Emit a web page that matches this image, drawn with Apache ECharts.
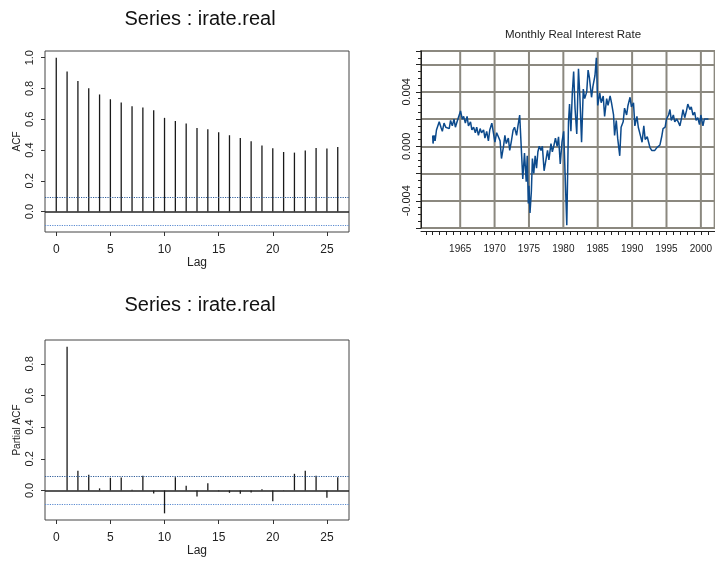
<!DOCTYPE html>
<html>
<head>
<meta charset="UTF-8">
<title>irate.real</title>
<script type="text/javascript" src="https://cdn.jsdelivr.net/npm/echarts/dist/echarts.min.js"></script>
</head>
<body style="margin: 0; background: #fff">
<div id="container" style="width: 715px; height: 561px"></div>
<script>
// ACF / PACF of irate.real
var lags = [0, 1, 2, 3, 4, 5, 6, 7, 8, 9, 10, 11, 12, 13, 14, 15, 16, 17, 18, 19, 20, 21, 22, 23, 24, 25, 26];
var acfValues = [1.0, 0.911, 0.848, 0.802, 0.761, 0.730, 0.709, 0.685, 0.676, 0.659, 0.609, 0.589, 0.572, 0.543,
    0.535, 0.515, 0.496, 0.478, 0.457, 0.430, 0.411, 0.387, 0.383, 0.396, 0.413, 0.409, 0.420];
var pacfLags = [1, 2, 3, 4, 5, 6, 7, 8, 9, 10, 11, 12, 13, 14, 15, 16, 17, 18, 19, 20, 21, 22, 23, 24, 25, 26];
var pacfValues = [0.909, 0.124, 0.099, 0.013, 0.080, 0.082, 0.004, 0.093, -0.019, -0.145, 0.084, 0.029, -0.038,
    0.046, -0.006, -0.015, -0.021, -0.013, 0.008, -0.069, 0.002, 0.105, 0.124, 0.093, -0.046, 0.084];
var confBound = 0.089;
var lagTicks = [0, 5, 10, 15, 20, 25];
var acfTicks = [0, 0.2, 0.4, 0.6, 0.8, 1.0];
var pacfTicks = [0, 0.2, 0.4, 0.6, 0.8];

// monthly real interest rate
var rateYears = [1961.0, 1961.05, 1961.2, 1961.35, 1961.55, 1961.7, 1961.95, 1962.2, 1962.4, 1962.65, 1962.9,
    1963.1, 1963.4, 1963.6, 1963.85, 1964.1, 1964.3, 1964.6, 1964.8, 1965.05, 1965.3, 1965.5, 1965.75,
    1966.0, 1966.2, 1966.5, 1966.7, 1966.95, 1967.2, 1967.4, 1967.65, 1967.9, 1968.1, 1968.4, 1968.6, 1968.85,
    1969.1, 1969.3, 1969.6, 1969.8, 1970.05, 1970.3, 1970.55, 1970.8, 1971.0, 1971.3, 1971.5, 1971.7,
    1972.0, 1972.2, 1972.45, 1972.7, 1972.9, 1973.2, 1973.4, 1973.65, 1973.9, 1974.1, 1974.35, 1974.6, 1974.75, 1974.9,
    1975.0, 1975.15, 1975.35, 1975.5, 1975.7, 1975.9, 1976.1, 1976.3, 1976.5, 1976.75, 1976.95,
    1977.2, 1977.5, 1977.7, 1977.9, 1978.2, 1978.4, 1978.6, 1978.85, 1979.1, 1979.3, 1979.55, 1979.8,
    1980.05, 1980.2, 1980.5, 1980.75, 1980.9, 1981.1, 1981.3, 1981.5, 1981.7, 1981.95,
    1982.2, 1982.4, 1982.65, 1982.9, 1983.1, 1983.4, 1983.6, 1983.8, 1984.1, 1984.3, 1984.6, 1984.8,
    1985.0, 1985.3, 1985.5, 1985.8, 1986.0, 1986.3, 1986.5, 1986.8, 1987.0, 1987.3, 1987.45, 1987.7, 1987.9,
    1988.2, 1988.4, 1988.7, 1988.9, 1989.2, 1989.4, 1989.7, 1989.9, 1990.2, 1990.4, 1990.7, 1990.9,
    1991.2, 1991.45, 1991.7, 1991.9, 1992.2, 1992.4, 1992.6, 1992.85, 1993.1, 1993.3, 1993.6, 1993.8,
    1994.05, 1994.3, 1994.5, 1994.8, 1995.0, 1995.3, 1995.5, 1995.7, 1996.0, 1996.2, 1996.5, 1996.7, 1996.95,
    1997.2, 1997.4, 1997.65, 1997.9, 1998.1, 1998.4, 1998.6, 1998.85, 1999.1, 1999.3, 1999.55, 1999.8,
    2000.0, 2000.3, 2000.5, 2000.75, 2001.1];
var rateValues = [0.0008, 0.0002, 0.0008, 0.0004, 0.0012, 0.0011, 0.0018, 0.0014, 0.0011, 0.0017, 0.0014,
    0.0015, 0.0013, 0.0019, 0.0015, 0.0020, 0.0014, 0.0019, 0.0020, 0.0026, 0.0020, 0.0022, 0.0017,
    0.0022, 0.0015, 0.0018, 0.0012, 0.0014, 0.0010, 0.0014, 0.0008, 0.0013, 0.0010, 0.0012, 0.0006, 0.0011,
    0.0004, 0.0012, 0.0017, 0.0018, 0.0003, 0.0010, 0.0007, 0.0004, -0.0009, 0.0000, 0.0008, 0.0002,
    0.0006, -0.0003, 0.0004, 0.0012, 0.0014, 0.0008, 0.0015, 0.0023, -0.0003, -0.0024, -0.0005, -0.0026, -0.0007, -0.0042,
    -0.0029, -0.0049, -0.0033, -0.0009, -0.0020, -0.0007, -0.0016, -0.0004, 0.0000, -0.0003, 0.0000,
    -0.0018, -0.0009, -0.0003, -0.0010, 0.0002, -0.0004, 0.0000, 0.0006, 0.0000, 0.0007, -0.0013, 0.0003,
    0.0011, -0.0012, -0.0058, 0.0018, 0.0031, 0.0011, 0.0039, 0.0055, 0.0028, 0.0009,
    0.0057, 0.0037, 0.0003, 0.0042, 0.0035, 0.0040, 0.0056, 0.0050, 0.0036, 0.0044, 0.0052, 0.0065,
    0.0030, 0.0039, 0.0032, 0.0037, 0.0022, 0.0035, 0.0030, 0.0037, 0.0032, 0.0023, 0.0008, 0.0019, 0.0006,
    -0.0007, 0.0014, 0.0018, 0.0028, 0.0023, 0.0030, 0.0036, 0.0029, 0.0032, 0.0015, 0.0022, 0.0014,
    0.0008, 0.0003, 0.0015, 0.0005, 0.0007, 0.0003, -0.0001, -0.0003, -0.0002, -0.0003, -0.0001, 0.0000,
    0.0001, 0.0007, 0.0013, 0.0014, 0.0020, 0.0023, 0.0027, 0.0019, 0.0023, 0.0018, 0.0020, 0.0018, 0.0015,
    0.0021, 0.0027, 0.0021, 0.0026, 0.0031, 0.0027, 0.0029, 0.0023, 0.0025, 0.0019, 0.0021, 0.0016,
    0.0023, 0.0015, 0.0020, 0.0019, 0.0020];
var yearLabels = [1965, 1970, 1975, 1980, 1985, 1990, 1995, 2000];
var yearTicks = [1960, 1961, 1962, 1963, 1964, 1965, 1966, 1967, 1968, 1969, 1970, 1971, 1972, 1973, 1974, 1975,
    1976, 1977, 1978, 1979, 1980, 1981, 1982, 1983, 1984, 1985, 1986, 1987, 1988, 1989, 1990, 1991, 1992,
    1993, 1994, 1995, 1996, 1997, 1998, 1999, 2000, 2001];
var rateMin = -0.006, rateMax = 0.007;

var font = 'Liberation Sans, Arial, Helvetica, sans-serif';

function stem(params, api) {
    var a = api.coord([api.value(0), 0]);
    var b = api.coord([api.value(0), api.value(1)]);
    return {
        type: 'line',
        shape: {x1: a[0], y1: a[1], x2: b[0], y2: b[1]},
        style: {stroke: '#1a1a1a', lineWidth: 1.3}
    };
}

function vGrid(params, api) {
    var a = api.coord([api.value(0), rateMin]);
    var b = api.coord([api.value(0), rateMax]);
    return {
        type: 'line',
        shape: {x1: a[0], y1: a[1], x2: b[0], y2: b[1]},
        style: {stroke: '#8b887f', lineWidth: 2}
    };
}

function lagAxis(idx) {
    return {
        type: 'value', gridIndex: idx, min: -1.04, max: 27.04,
        name: 'Lag', nameLocation: 'middle', nameGap: 25,
        nameTextStyle: {fontFamily: font, fontSize: 12, color: '#222'},
        axisLine: {show: false, onZero: false},
        axisTick: {show: true, length: 4, customValues: lagTicks, lineStyle: {color: '#333'}},
        axisLabel: {customValues: lagTicks, margin: 12, fontFamily: font, fontSize: 12, color: '#222'},
        splitLine: {show: false}
    };
}

function corrAxis(idx, lo, hi, ticks, name) {
    return {
        type: 'value', gridIndex: idx, min: lo, max: hi,
        name: name, nameLocation: 'middle', nameRotate: 90, nameGap: 23,
        nameTextStyle: {fontFamily: font, fontSize: 10, color: '#222'},
        axisLine: {show: false, onZero: false},
        axisTick: {show: true, length: 4, customValues: ticks, lineStyle: {color: '#333'}},
        axisLabel: {customValues: ticks, rotate: 90, margin: 10, fontFamily: font, fontSize: 11, color: '#222',
            formatter: function (v) { return v.toFixed(1); }},
        splitLine: {show: false}
    };
}

function refLines() {
    return {
        silent: true, symbol: 'none', label: {show: false},
        data: [
            {yAxis: 0, lineStyle: {color: '#222', type: 'solid', width: 1.5}},
            {yAxis: confBound, lineStyle: {color: '#2f5d9a', type: 'dotted', width: 1.2}},
            {yAxis: -confBound, lineStyle: {color: '#5b8bd0', type: 'dotted', width: 1.2}}
        ]
    };
}

var chart = echarts.init(document.getElementById('container'));
var option = {
    animation: false,
    backgroundColor: '#fff',
    graphic: [
        {type: 'text', x: 200, y: 19, style: {text: 'Series : irate.real', fontFamily: font, fontSize: 20,
            fill: '#111', align: 'center', verticalAlign: 'middle'}},
        {type: 'text', x: 200, y: 305, style: {text: 'Series : irate.real', fontFamily: font, fontSize: 20,
            fill: '#111', align: 'center', verticalAlign: 'middle'}},
        {type: 'text', x: 573, y: 35, style: {text: 'Monthly Real Interest Rate', fontFamily: font, fontSize: 11.5,
            fill: '#222', align: 'center', verticalAlign: 'middle'}}
    ],
    grid: [
        {left: 45, top: 51, width: 304, height: 181, show: true, borderColor: '#444', borderWidth: 1},
        {left: 45, top: 340, width: 304, height: 180, show: true, borderColor: '#444', borderWidth: 1},
        {left: 421, top: 51, width: 300, height: 177, show: true, borderColor: '#8b887f', borderWidth: 2}
    ],
    xAxis: [
        lagAxis(0),
        lagAxis(1),
        {
            type: 'value', gridIndex: 2, min: 1959.3, max: 2002, offset: 3,
            axisLine: {show: true, onZero: false, lineStyle: {color: '#222', width: 1}},
            axisTick: {show: true, length: 4, customValues: yearTicks, lineStyle: {color: '#222'}},
            axisLabel: {customValues: yearLabels, margin: 13, fontFamily: font, fontSize: 10, color: '#222',
                formatter: function (v) { return String(v); }},
            splitLine: {show: false}
        }
    ],
    yAxis: [
        corrAxis(0, -0.133, 1.0435, acfTicks, 'ACF'),
        corrAxis(1, -0.187, 0.951, pacfTicks, 'Partial ACF'),
        {
            type: 'value', gridIndex: 2, min: rateMin, max: rateMax, interval: 0.002,
            axisLine: {show: true, onZero: false, lineStyle: {color: '#222', width: 1}},
            axisTick: {show: true, length: 5, lineStyle: {color: '#222'}},
            minorTick: {show: true, splitNumber: 4, length: 3, lineStyle: {color: '#222'}},
            axisLabel: {rotate: 90, margin: 9, fontFamily: font, fontSize: 11, color: '#222',
                formatter: function (v) {
                    if (Math.abs(v) < 1e-9) return '0.000';
                    if (Math.abs(Math.abs(v) - 0.004) < 1e-9) return v.toFixed(3);
                    return '';
                }},
            splitLine: {show: true, lineStyle: {color: '#8b887f', width: 2}}
        }
    ],
    series: [
        {type: 'custom', xAxisIndex: 0, yAxisIndex: 0, renderItem: stem,
            data: lags.map(function (l, i) { return [l, acfValues[i]]; })},
        {type: 'line', xAxisIndex: 0, yAxisIndex: 0, data: [], markLine: refLines()},
        {type: 'custom', xAxisIndex: 1, yAxisIndex: 1, renderItem: stem,
            data: pacfLags.map(function (l, i) { return [l, pacfValues[i]]; })},
        {type: 'line', xAxisIndex: 1, yAxisIndex: 1, data: [], markLine: refLines()},
        {type: 'custom', xAxisIndex: 2, yAxisIndex: 2, renderItem: vGrid, z: 1, silent: true,
            data: yearLabels.map(function (y) { return [y, 0]; })},
        {type: 'line', xAxisIndex: 2, yAxisIndex: 2, z: 3, symbol: 'none', silent: true,
            lineStyle: {color: '#0c4a8c', width: 1.5},
            data: rateYears.map(function (y, i) { return [y, rateValues[i]]; })}
    ]
};
chart.setOption(option);
</script>
</body>
</html>
